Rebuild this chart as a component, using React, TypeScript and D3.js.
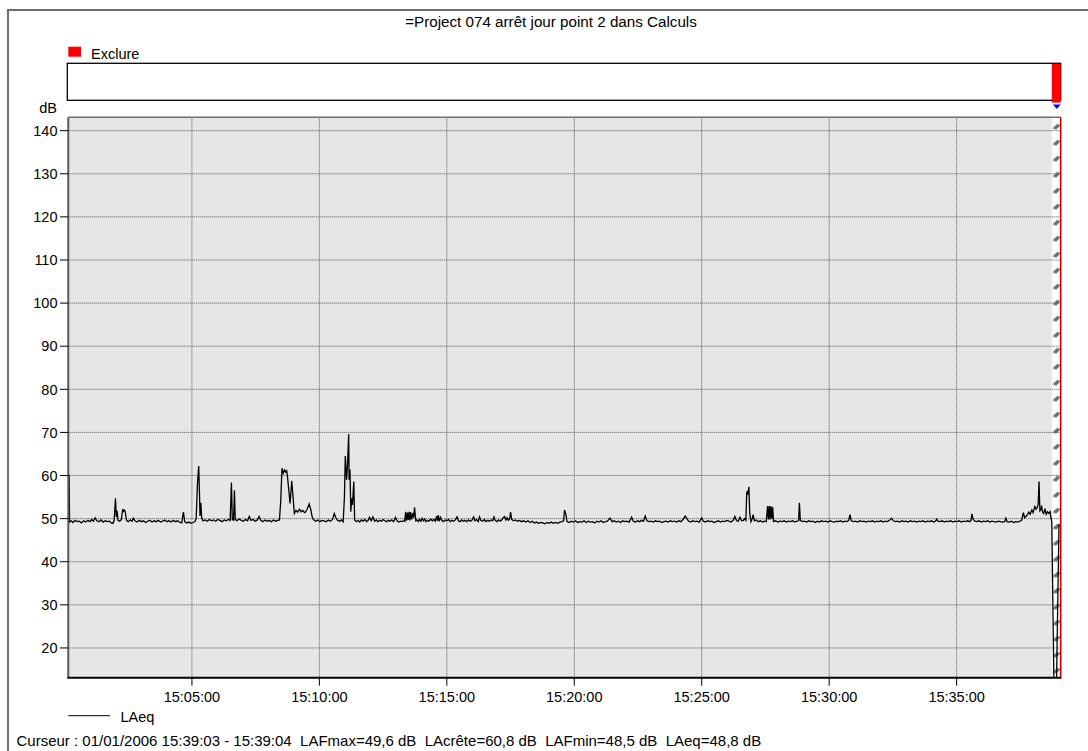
import React, { useEffect, useRef } from 'react';
import * as d3 from 'd3';

// seconds after 15:00:00 on 01/01/2006, LAeq in dB
const laeq: [number, number][] = [
  [9, 60.3], [11, 60.0], [12, 49.2], [16, 49.5], [20, 49.1], [25, 49.6], [30, 49.3], [35, 49.4], [40, 49.0], [45, 49.5],
  [50, 49.2], [55, 49.6], [60, 49.3], [64, 49.8], [68, 49.4], [72, 50.2], [76, 49.5], [81, 49.3], [86, 49.7], [91, 49.2],
  [96, 49.5], [101, 49.3], [106, 49.4], [110, 49.0], [114, 48.9], [117, 49.6], [120, 54.7], [122, 50.4], [124, 51.8], [126, 49.6],
  [130, 49.4], [134, 49.8], [137, 52.2], [139, 51.7], [141, 52.0], [143, 51.6], [146, 49.6], [150, 49.3], [155, 49.7], [159, 49.4],
  [162, 50.1], [166, 49.5], [171, 49.2], [176, 49.6], [181, 49.3], [186, 49.5], [191, 49.1], [196, 49.4], [201, 49.6], [206, 49.2],
  [211, 49.5], [216, 49.3], [221, 49.6], [226, 49.2], [231, 49.4], [236, 49.7], [241, 49.3], [246, 49.5], [251, 49.2], [256, 49.6],
  [261, 49.3], [266, 49.5], [271, 49.2], [276, 49.0], [280, 51.5], [283, 49.3], [288, 49.0], [293, 49.2], [298, 48.9], [303, 49.1],
  [307, 49.3], [310, 50.0], [313, 58.0], [316, 62.2], [318, 55.0], [319, 50.6], [321, 53.7], [323, 50.2], [326, 49.5], [331, 49.7],
  [336, 49.4], [341, 49.8], [346, 49.5], [351, 49.7], [356, 49.4], [361, 49.8], [366, 49.6], [371, 49.3], [376, 49.7], [381, 49.5],
  [386, 49.8], [390, 49.6], [393, 58.4], [395, 49.8], [398, 49.6], [400, 56.6], [402, 49.8], [406, 49.5], [411, 49.9], [416, 49.6],
  [421, 49.4], [426, 49.8], [431, 49.5], [435, 50.5], [439, 49.6], [444, 49.8], [449, 49.4], [454, 49.7], [458, 50.5], [462, 49.6],
  [467, 49.3], [472, 49.7], [477, 49.4], [482, 49.6], [487, 49.3], [492, 49.7], [497, 49.4], [502, 49.6], [506, 49.7], [509, 54.0],
  [512, 61.7], [515, 60.5], [518, 61.3], [521, 60.8], [523, 61.1], [525, 59.7], [528, 56.6], [531, 53.5], [535, 58.8], [538, 55.1],
  [541, 51.2], [545, 51.9], [549, 51.5], [553, 52.2], [557, 51.6], [561, 51.9], [565, 51.4], [568, 51.6], [572, 52.4], [576, 53.4],
  [580, 52.0], [583, 50.4], [586, 49.8], [591, 49.4], [596, 49.7], [601, 49.3], [606, 49.6], [611, 49.5], [616, 49.3], [621, 49.7],
  [626, 49.4], [631, 49.8], [635, 51.2], [639, 50.2], [643, 49.6], [648, 49.4], [652, 49.7], [656, 49.3], [659, 55.0], [661, 64.5],
  [664, 59.0], [666, 62.0], [669, 69.6], [670, 59.0], [672, 61.4], [674, 51.6], [676, 54.7], [678, 53.2], [681, 58.6], [683, 49.7],
  [687, 49.3], [691, 49.6], [695, 49.2], [699, 49.7], [703, 49.4], [707, 49.8], [711, 49.3], [715, 49.6], [718, 50.3], [722, 49.5],
  [726, 50.4], [730, 49.4], [734, 49.7], [738, 49.3], [742, 49.6], [746, 49.4], [750, 49.8], [754, 49.5], [758, 49.3], [762, 49.6],
  [766, 49.4], [770, 49.7], [775, 49.3], [779, 50.3], [783, 49.5], [787, 49.2], [791, 49.4], [795, 49.3], [799, 49.6], [801, 49.4],
  [803, 51.6], [805, 49.5], [807, 51.4], [809, 49.7], [811, 51.6], [813, 49.6], [815, 51.5], [817, 49.8], [820, 51.3], [822, 50.2],
  [824, 52.6], [827, 49.5], [830, 49.7], [833, 49.3], [836, 49.8], [839, 49.4], [842, 50.1], [845, 49.5], [848, 49.9], [851, 49.3],
  [855, 49.6], [858, 49.4], [862, 49.9], [866, 49.5], [870, 49.8], [873, 49.4], [876, 50.6], [878, 49.5], [880, 50.8], [882, 49.4],
  [885, 50.3], [888, 49.6], [892, 49.3], [896, 49.7], [900, 49.5], [904, 49.8], [908, 49.3], [912, 49.6], [916, 49.4], [920, 49.7],
  [924, 50.4], [927, 49.5], [931, 49.3], [935, 49.7], [939, 49.4], [943, 49.6], [947, 49.3], [951, 49.7], [955, 49.4], [959, 49.6],
  [963, 50.4], [966, 49.5], [970, 49.8], [974, 49.3], [977, 50.4], [980, 49.6], [984, 49.4], [988, 49.8], [992, 49.3], [996, 49.6],
  [1000, 49.4], [1004, 49.7], [1008, 49.5], [1011, 50.4], [1014, 49.6], [1018, 49.3], [1022, 49.7], [1026, 49.4], [1030, 49.8], [1033, 50.3],
  [1036, 50.5], [1039, 49.7], [1042, 50.2], [1045, 49.6], [1048, 50.0], [1050, 51.5], [1053, 49.8], [1057, 49.5], [1061, 49.7], [1066, 49.4],
  [1071, 49.6], [1076, 49.3], [1081, 49.5], [1086, 49.2], [1091, 49.5], [1096, 49.1], [1101, 49.4], [1106, 49.0], [1111, 49.2], [1116, 48.9],
  [1121, 49.1], [1126, 49.0], [1131, 48.8], [1136, 49.1], [1141, 48.9], [1146, 49.2], [1151, 48.9], [1156, 49.1], [1161, 48.9], [1166, 49.2],
  [1171, 49.3], [1175, 49.5], [1177, 52.0], [1180, 51.1], [1183, 49.3], [1188, 49.1], [1193, 49.4], [1198, 49.2], [1203, 49.5], [1208, 49.1],
  [1213, 49.3], [1218, 49.2], [1223, 49.5], [1228, 49.1], [1233, 49.4], [1238, 49.2], [1243, 49.3], [1248, 49.0], [1253, 49.4], [1258, 49.2],
  [1263, 49.5], [1268, 49.1], [1273, 49.3], [1278, 49.4], [1284, 50.1], [1289, 49.3], [1294, 49.5], [1299, 49.2], [1304, 49.4], [1309, 49.1],
  [1314, 49.5], [1319, 49.3], [1324, 49.4], [1329, 49.2], [1335, 50.3], [1339, 49.4], [1344, 49.2], [1349, 49.5], [1354, 49.3], [1359, 49.6],
  [1363, 49.4], [1367, 50.6], [1371, 49.5], [1376, 49.3], [1381, 49.4], [1386, 49.2], [1391, 49.5], [1396, 49.3], [1401, 49.4], [1406, 49.1],
  [1411, 49.3], [1416, 49.4], [1421, 49.2], [1426, 49.5], [1431, 49.3], [1436, 49.4], [1441, 49.2], [1446, 49.5], [1451, 49.3], [1456, 49.8],
  [1461, 50.6], [1465, 50.0], [1469, 49.4], [1474, 49.2], [1479, 49.5], [1484, 49.3], [1489, 49.4], [1494, 49.2], [1500, 50.2], [1504, 49.4],
  [1509, 49.2], [1514, 49.5], [1519, 49.3], [1524, 49.4], [1529, 49.1], [1534, 49.3], [1539, 49.5], [1544, 49.2], [1549, 49.4], [1554, 49.3],
  [1559, 49.6], [1564, 49.4], [1569, 49.2], [1574, 49.6], [1578, 50.5], [1582, 49.5], [1586, 49.4], [1590, 50.3], [1594, 49.5], [1598, 49.6],
  [1601, 50.0], [1604, 49.6], [1606, 56.3], [1608, 55.5], [1611, 57.4], [1613, 51.2], [1616, 49.3], [1619, 50.0], [1621, 50.9], [1624, 49.5],
  [1628, 49.7], [1633, 49.3], [1638, 49.5], [1643, 49.2], [1648, 49.4], [1652, 49.3], [1655, 52.9], [1657, 49.8], [1659, 52.9], [1661, 49.8],
  [1663, 52.9], [1665, 50.0], [1667, 52.7], [1669, 49.3], [1674, 49.5], [1679, 49.2], [1684, 49.4], [1689, 49.3], [1694, 49.5], [1699, 49.2],
  [1704, 49.4], [1709, 49.3], [1714, 49.5], [1719, 49.2], [1724, 49.4], [1728, 49.5], [1730, 53.7], [1732, 49.6], [1737, 49.3], [1742, 49.4],
  [1747, 49.2], [1752, 49.5], [1757, 49.3], [1762, 49.4], [1767, 49.1], [1772, 49.4], [1777, 49.2], [1782, 49.5], [1787, 49.3], [1792, 49.4],
  [1797, 49.2], [1802, 49.5], [1807, 49.3], [1812, 49.2], [1817, 49.4], [1822, 49.3], [1827, 49.5], [1832, 49.2], [1837, 49.4], [1842, 49.3],
  [1846, 49.6], [1849, 50.9], [1852, 49.5], [1857, 49.3], [1862, 49.4], [1867, 49.2], [1872, 49.5], [1877, 49.3], [1882, 49.4], [1887, 49.2],
  [1892, 49.4], [1897, 49.3], [1902, 49.5], [1907, 49.2], [1912, 49.4], [1917, 49.3], [1922, 49.5], [1927, 49.2], [1932, 49.4], [1937, 49.3],
  [1942, 49.6], [1947, 50.1], [1951, 49.5], [1956, 49.3], [1961, 49.4], [1966, 49.2], [1971, 49.5], [1976, 49.3], [1981, 49.4], [1986, 49.2],
  [1991, 49.5], [1996, 49.3], [2001, 49.4], [2006, 49.2], [2011, 49.4], [2016, 49.3], [2021, 49.5], [2026, 49.2], [2031, 49.4], [2036, 49.3],
  [2041, 49.5], [2046, 49.2], [2050, 49.4], [2053, 49.9], [2056, 49.4], [2061, 49.3], [2066, 49.5], [2071, 49.2], [2076, 49.4], [2081, 49.3],
  [2086, 49.5], [2091, 49.2], [2096, 49.4], [2101, 49.3], [2106, 49.5], [2111, 49.2], [2116, 49.4], [2121, 49.3], [2126, 49.5], [2131, 49.3],
  [2134, 49.6], [2136, 51.1], [2139, 49.8], [2143, 49.4], [2148, 49.3], [2153, 49.5], [2158, 49.2], [2163, 49.4], [2168, 49.3], [2173, 49.5],
  [2178, 49.2], [2183, 49.4], [2188, 49.3], [2193, 49.2], [2198, 49.4], [2203, 49.3], [2208, 49.2], [2213, 49.3], [2216, 50.1], [2219, 49.3],
  [2224, 49.2], [2229, 49.4], [2234, 49.1], [2239, 49.3], [2244, 49.2], [2249, 49.4], [2253, 49.6], [2257, 51.4], [2260, 50.2], [2263, 50.5],
  [2266, 50.8], [2270, 51.5], [2273, 51.0], [2277, 52.0], [2280, 51.4], [2284, 52.8], [2287, 52.2], [2290, 52.6], [2292, 53.4], [2294, 58.6],
  [2296, 51.8], [2298, 52.0], [2300, 53.0], [2302, 51.6], [2305, 51.2], [2308, 52.3], [2311, 51.0], [2314, 51.6], [2317, 51.2], [2320, 51.6],
  [2322, 50.2], [2324, 49.4], [2330, 5], [2334, 5], [2341, 48.8],
];

const yTicks = [20, 30, 40, 50, 60, 70, 80, 90, 100, 110, 120, 130, 140];
const timeStart = 9;       // 15:00:09
const timeEnd = 2345;      // 15:39:05
const excludeStart = 2324; // 15:38:44
const title = '=Project 074 arrêt jour point 2 dans Calculs';
const cursorText = 'Curseur : 01/01/2006 15:39:03 - 15:39:04  LAFmax=49,6 dB  LAcrête=60,8 dB  LAFmin=48,5 dB  LAeq=48,8 dB';

const base = Date.UTC(2006, 0, 1, 15, 0, 0);
const toDate = (s: number) => new Date(base + s * 1000);

const App: React.FC = () => {
  const svgRef = useRef<SVGSVGElement>(null);

  useEffect(() => {
    if (!svgRef.current) return;
    const svg = d3.select(svgRef.current);
    svg.selectAll('*').remove();

    const width = 1088;
    const height = 751;
    const font = "'Liberation Sans', Arial, sans-serif";
    const plot = { left: 68.3, right: 1060.7, top: 117.3, bottom: 677.7 };

    svg.attr('width', width).attr('height', height).style('font-family', font);

    const x = d3.scaleUtc()
      .domain([toDate(timeStart), toDate(timeEnd)])
      .range([plot.left, plot.right]);
    const y = d3.scaleLinear()
      .domain([13.1, 143.1])
      .range([plot.bottom, plot.top]);
    const exX = x(toDate(excludeStart));

    const defs = svg.append('defs');
    defs.append('clipPath').attr('id', 'plotClip')
      .append('rect')
      .attr('x', plot.left).attr('y', plot.top)
      .attr('width', plot.right - plot.left).attr('height', plot.bottom - plot.top);

    // "//" marks of the excluded zone
    const hatch = defs.append('pattern')
      .attr('id', 'hatch')
      .attr('patternUnits', 'userSpaceOnUse')
      .attr('x', exX)
      .attr('y', plot.top + 4)
      .attr('width', 12)
      .attr('height', 16);
    hatch.append('rect').attr('width', 12).attr('height', 16).attr('fill', '#fff');
    hatch.append('path')
      .attr('d', 'M1.5,7.5 L6,3 M3.5,8 L8,3.5')
      .attr('stroke', '#333').attr('stroke-width', 1.1).attr('fill', 'none');

    // outer frame
    svg.append('rect')
      .attr('x', 8).attr('y', 10).attr('width', 1200).attr('height', 1000)
      .attr('fill', '#fff').attr('stroke', '#6e6e6e').attr('stroke-width', 2);

    // title
    svg.append('text')
      .attr('x', 551).attr('y', 27)
      .attr('text-anchor', 'middle')
      .style('font-size', '15.2px')
      .attr('fill', '#000')
      .text(title);

    // exclusion legend + band
    svg.append('rect').attr('x', 68.3).attr('y', 46.7).attr('width', 12.7).attr('height', 10).attr('fill', '#ff0000');
    svg.append('text').attr('x', 91).attr('y', 58.5).style('font-size', '14.5px').text('Exclure');

    svg.append('rect')
      .attr('x', 67.3).attr('y', 63.3)
      .attr('width', plot.right - 67.3).attr('height', 37)
      .attr('fill', '#fff').attr('stroke', '#000').attr('stroke-width', 1.3);
    svg.append('rect')
      .attr('x', exX).attr('y', 63.8)
      .attr('width', plot.right - exX).attr('height', 38.8)
      .attr('fill', '#ff0000');
    const triX = exX + 1.2;
    svg.append('path')
      .attr('d', `M${triX},104.5 L${plot.right},104.5 L${(triX + plot.right) / 2},109 Z`)
      .attr('fill', '#0000ff');

    // plot background
    svg.append('rect')
      .attr('x', plot.left).attr('y', plot.top)
      .attr('width', plot.right - plot.left).attr('height', plot.bottom - plot.top)
      .attr('fill', '#e6e6e6');
    svg.append('rect')
      .attr('x', exX).attr('y', plot.top)
      .attr('width', plot.right - exX).attr('height', plot.bottom - plot.top)
      .attr('fill', 'url(#hatch)');

    // grid
    const xTicks = x.ticks(d3.utcMinute.every(5)!);
    svg.append('g').selectAll('line').data(yTicks).enter().append('line')
      .attr('x1', plot.left).attr('x2', plot.right)
      .attr('y1', d => y(d)).attr('y2', d => y(d))
      .attr('stroke', '#555').attr('stroke-width', 1).attr('stroke-dasharray', '1,1');
    svg.append('g').selectAll('line').data(xTicks).enter().append('line')
      .attr('x1', d => x(d)).attr('x2', d => x(d))
      .attr('y1', plot.top).attr('y2', plot.bottom)
      .attr('stroke', '#555').attr('stroke-width', 1).attr('stroke-dasharray', '1,1');

    // series
    const line = d3.line<[number, number]>()
      .x(d => x(toDate(d[0])))
      .y(d => y(d[1]));
    svg.append('path')
      .datum(laeq)
      .attr('clip-path', 'url(#plotClip)')
      .attr('d', line)
      .attr('fill', 'none')
      .attr('stroke', '#000')
      .attr('stroke-width', 1.3);

    // borders
    svg.append('line').attr('x1', plot.left).attr('x2', plot.right).attr('y1', plot.top).attr('y2', plot.top)
      .attr('stroke', '#6e6e6e').attr('stroke-width', 1.5);
    svg.append('line').attr('x1', plot.left).attr('x2', plot.left).attr('y1', plot.top).attr('y2', plot.bottom)
      .attr('stroke', '#5a5a5a').attr('stroke-width', 2);
    svg.append('line').attr('x1', plot.right).attr('x2', plot.right).attr('y1', plot.top).attr('y2', plot.bottom + 1)
      .attr('stroke', '#cc0000').attr('stroke-width', 1.6);
    svg.append('line').attr('x1', plot.left - 1).attr('x2', plot.right).attr('y1', plot.bottom).attr('y2', plot.bottom)
      .attr('stroke', '#000').attr('stroke-width', 2);

    // y axis
    const yAxis = svg.append('g');
    yAxis.selectAll('line').data(yTicks).enter().append('line')
      .attr('x1', 60).attr('x2', plot.left).attr('y1', d => y(d)).attr('y2', d => y(d))
      .attr('stroke', '#000').attr('stroke-width', 1);
    yAxis.selectAll('text').data(yTicks).enter().append('text')
      .attr('x', 57.5).attr('y', d => y(d)).attr('dy', '0.36em')
      .attr('text-anchor', 'end').style('font-size', '14.5px')
      .text(d => String(d));
    svg.append('text').attr('x', 57).attr('y', 112.5).attr('text-anchor', 'end')
      .style('font-size', '14.5px').text('dB');

    // x axis
    const fmt = d3.utcFormat('%H:%M:%S');
    const xAxis = svg.append('g');
    xAxis.selectAll('line').data(xTicks).enter().append('line')
      .attr('x1', d => x(d)).attr('x2', d => x(d)).attr('y1', plot.bottom).attr('y2', plot.bottom + 8)
      .attr('stroke', '#000').attr('stroke-width', 1);
    xAxis.selectAll('text').data(xTicks).enter().append('text')
      .attr('x', d => x(d)).attr('y', 702)
      .attr('text-anchor', 'middle').style('font-size', '14.5px')
      .text(d => fmt(d));

    // series legend
    svg.append('line').attr('x1', 68.3).attr('x2', 110).attr('y1', 715.7).attr('y2', 715.7)
      .attr('stroke', '#000').attr('stroke-width', 1);
    svg.append('text').attr('x', 120.5).attr('y', 721.5).style('font-size', '14.5px').text('LAeq');

    // cursor info
    svg.append('text').attr('x', 16.5).attr('y', 746)
      .style('font-size', '15px').style('white-space', 'pre')
      .text(cursorText);
  }, []);

  return (
    <div style={{ position: 'absolute', left: 0, top: 0, width: 1088, height: 751, overflow: 'hidden', background: '#fff' }}>
      <svg ref={svgRef} style={{ display: 'block' }} />
    </div>
  );
};

export default App;
